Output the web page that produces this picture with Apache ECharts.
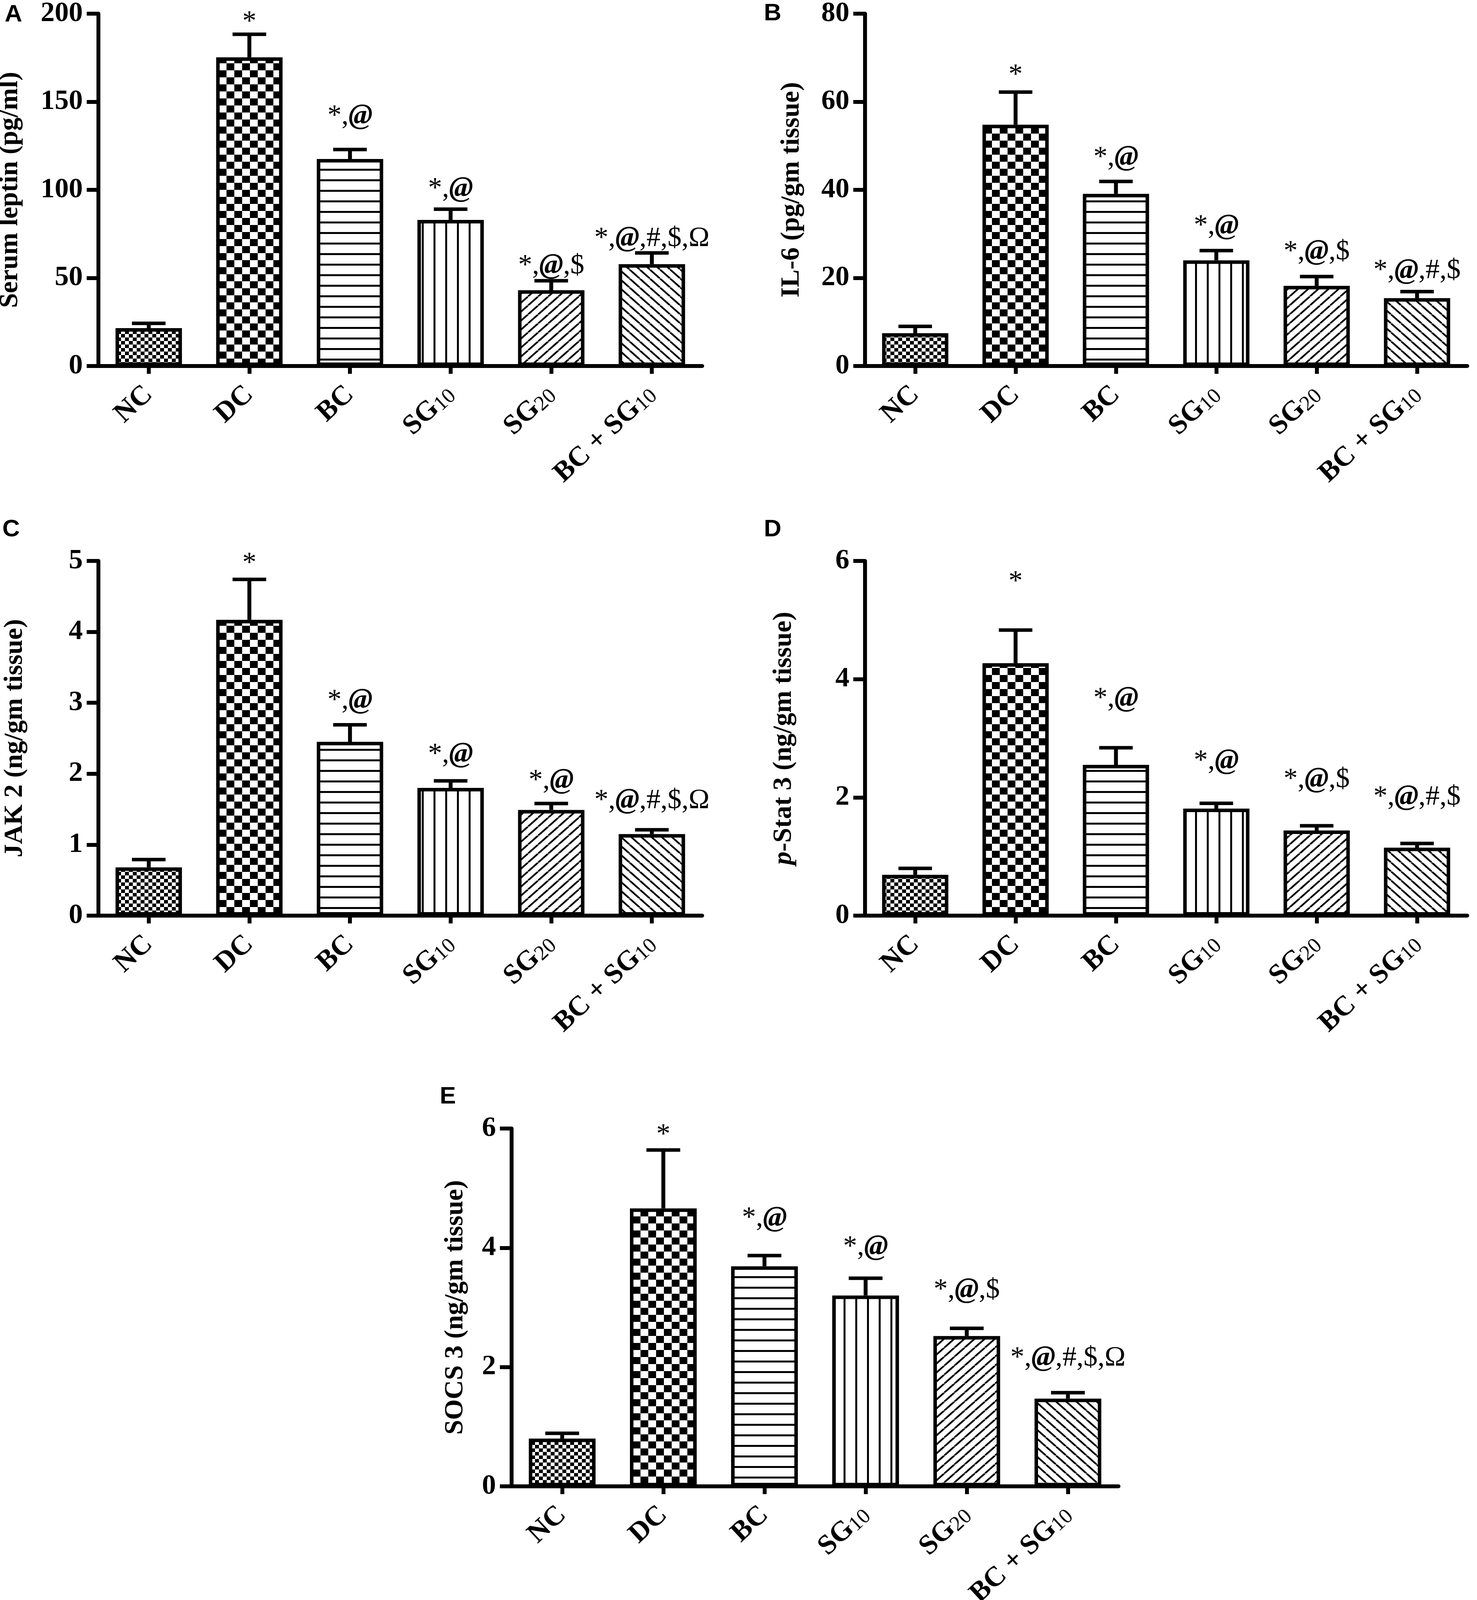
<!DOCTYPE html>
<html>
<head>
<meta charset="utf-8">
<title>Leptin, IL-6, JAK2, p-Stat3, SOCS3</title>
<script src="https://cdn.jsdelivr.net/npm/echarts@6/dist/echarts.min.js"></script>
<style>
html, body { margin: 0; padding: 0; background: #fff; overflow: hidden; }
#chart { width: 3782px; height: 4651px; }
</style>
</head>
<body>
<div id="chart"></div>
<script>
var categories = ['NC', 'DC', 'BC', 'SG10', 'SG20', 'BC + SG10'];

// A - serum leptin (pg/ml)
var leptinMean = [21.5, 175.2, 117.5, 82.9, 43.0, 57.8];
var leptinSem = [2.7, 13.1, 5.4, 6.1, 5.4, 6.4];
var leptinSig = ['', '*', '*,@', '*,@', '*,@,$', '*,@,#,$,Ω'];
var leptinSigAt = [null, 198, 141.7, 100.4, 56.8, 72.2];
var leptinTicks = [0, 50, 100, 150, 200];

// B - IL-6 (pg/gm tissue)
var il6Mean = [7.45, 54.8, 39.1, 24.0, 18.2, 15.4];
var il6Sem = [1.55, 7.4, 2.8, 2.2, 2.1, 1.5];
var il6Sig = ['', '*', '*,@', '*,@', '*,@,$', '*,@,#,$'];
var il6SigAt = [null, 67.1, 47.3, 31.7, 25.9, 21.6];
var il6Ticks = [0, 20, 40, 60, 80];

// C - JAK 2 (ng/gm tissue)
var jak2Mean = [0.68, 4.17, 2.45, 1.80, 1.49, 1.15];
var jak2Sem = [0.11, 0.57, 0.24, 0.10, 0.09, 0.06];
var jak2Sig = ['', '*', '*,@', '*,@', '*,@', '*,@,#,$,Ω'];
var jak2SigAt = [null, 5.03, 3.03, 2.27, 1.90, 1.62];
var jak2Ticks = [0, 1, 2, 3, 4, 5];

// D - p-Stat 3 (ng/gm tissue)
var stat3Mean = [0.69, 4.27, 2.55, 1.81, 1.44, 1.15];
var stat3Sem = [0.11, 0.56, 0.29, 0.09, 0.08, 0.07];
var stat3Sig = ['', '*', '*,@', '*,@', '*,@,$', '*,@,#,$'];
var stat3SigAt = [null, 5.73, 3.67, 2.61, 2.30, 2.00];
var stat3Ticks = [0, 2, 4, 6];

// E - SOCS 3 (ng/gm tissue)
var socs3Mean = [0.80, 4.66, 3.69, 3.20, 2.52, 1.47];
var socs3Sem = [0.09, 0.98, 0.18, 0.29, 0.13, 0.10];
var socs3Sig = ['', '*', '*,@', '*,@', '*,@,$', '*,@,#,$,Ω'];
var socs3SigAt = [null, 5.97, 4.49, 4.01, 3.29, 2.15];
var socs3Ticks = [0, 2, 4, 6];

var serif = "'Liberation Serif', 'Times New Roman', serif";
var sans = "'Liberation Sans', Arial, sans-serif";

// layout is measured on a 4651px tall figure; the window may be shorter,
// so vertical positions are scaled to whatever height we really get
var fullHeight = 4651;
var el = document.getElementById('chart');
var sy = 1;
if (window.innerHeight && window.innerHeight < fullHeight) {
    sy = window.innerHeight / fullHeight;
    el.style.height = window.innerHeight + 'px';
}
function Y(v) { return Math.round(v * sy); }

// hatch fills, one per group
function makePattern(kind) {
    var c = document.createElement('canvas');
    var g, w, h, k;
    if (kind === 'checkSmall' || kind === 'checkBig') {
        w = kind === 'checkSmall' ? 10 : 20;
        h = Math.max(1, Math.round(w * sy));
        c.width = 2 * w; c.height = 2 * h;
        g = c.getContext('2d');
        g.fillStyle = '#fff';
        g.fillRect(0, 0, 2 * w, 2 * h);
        g.fillStyle = '#000';
        g.fillRect(0, 0, w, h);
        g.fillRect(w, h, w, h);
    } else if (kind === 'hLines') {
        h = Y(31);
        c.width = 10; c.height = h;
        g = c.getContext('2d');
        g.fillStyle = '#fff'; g.fillRect(0, 0, 10, h);
        g.fillStyle = '#000'; g.fillRect(0, 0, 10, 5);
    } else if (kind === 'vLines') {
        c.width = 30; c.height = 10;
        g = c.getContext('2d');
        g.fillStyle = '#fff'; g.fillRect(0, 0, 30, 10);
        g.fillStyle = '#000'; g.fillRect(0, 0, 5, 10);
    } else {
        w = 26; h = Y(26);
        c.width = w; c.height = h;
        g = c.getContext('2d');
        g.fillStyle = '#fff'; g.fillRect(0, 0, w, h);
        g.strokeStyle = '#000';
        g.lineWidth = 4.5;
        for (k = -1; k <= 1; k++) {
            g.beginPath();
            if (kind === 'diagUp') {
                g.moveTo(k * w, h); g.lineTo(k * w + w, 0);
            } else {
                g.moveTo(k * w, 0); g.lineTo(k * w + w, h);
            }
            g.stroke();
        }
    }
    return { image: c, repeat: 'repeat' };
}

var fills = [
    makePattern('checkSmall'),
    makePattern('checkBig'),
    makePattern('hLines'),
    makePattern('vLines'),
    makePattern('diagUp'),
    makePattern('diagDown')
];

var panels = [
    { mean: leptinMean, sem: leptinSem, sig: leptinSig, sigAt: leptinSigAt, ticks: leptinTicks,
      name: 'Serum leptin (pg/ml)', letter: 'A', letterAt: [12, 8], nameGap: 192,
      box: { left: 252, top: 40, width: 1546, height: 1024 } },
    { mean: il6Mean, sem: il6Sem, sig: il6Sig, sigAt: il6SigAt, ticks: il6Ticks,
      name: 'IL-6 (pg/gm tissue)', letter: 'B', letterAt: [1956, 4], nameGap: 154,
      box: { left: 2215, top: 40, width: 1542, height: 1024 } },
    { mean: jak2Mean, sem: jak2Sem, sig: jak2Sig, sigAt: jak2SigAt, ticks: jak2Ticks,
      name: 'JAK 2 (ng/gm tissue)', letter: 'C', letterAt: [6, 1504], nameGap: 180,
      box: { left: 252, top: 1631, width: 1546, height: 1031 } },
    { mean: stat3Mean, sem: stat3Sem, sig: stat3Sig, sigAt: stat3SigAt, ticks: stat3Ticks,
      name: '{i|p}-Stat 3 (ng/gm tissue)', letter: 'D', letterAt: [1956, 1504], nameGap: 174,
      box: { left: 2215, top: 1631, width: 1542, height: 1031 } },
    { mean: socs3Mean, sem: socs3Sem, sig: socs3Sig, sigAt: socs3SigAt, ticks: socs3Ticks,
      name: 'SOCS 3 (ng/gm tissue)', letter: 'E', letterAt: [1126, 3153], nameGap: 110,
      box: { left: 1310, top: 3281, width: 1554, height: 1040 } }
];

function catLabel(v) {
    var m = v.match(/^(.*SG)(\d+)$/);
    if (m) return '{m|' + m[1] + '}{s|' + m[2] + '}';
    return '{m|' + v + '}';
}

function richSig(t) {
    return t.split('@').map(function (p) {
        return p ? '{t|' + p + '}' : '';
    }).join('{a|@}');
}

var sigRich = {
    t: { fontFamily: serif, fontSize: 72, fontWeight: 'normal', fill: '#000', color: '#000' },
    a: { fontFamily: serif, fontSize: 74, fontWeight: 'bold', fontStyle: 'italic', fill: '#000', color: '#000' }
};

var axisLine = { color: '#000', width: 10 };

var option = {
    animation: false,
    backgroundColor: '#fff',
    grid: [],
    xAxis: [],
    yAxis: [],
    series: [],
    graphic: []
};

panels.forEach(function (p, i) {
    option.grid.push({
        left: p.box.left, top: Y(p.box.top), width: p.box.width, height: Y(p.box.height),
        containLabel: false, outerBoundsMode: 'none'
    });
    option.xAxis.push({
        type: 'category', gridIndex: i, data: categories, boundaryGap: true,
        axisLine: { show: true, onZero: true, lineStyle: axisLine },
        axisTick: { show: true, alignWithLabel: true, length: Y(23), lineStyle: axisLine },
        splitLine: { show: false },
        axisLabel: {
            interval: 0, rotate: 43, margin: Y(72), color: '#000',
            fontFamily: serif, fontSize: 72, fontWeight: 'bold',
            formatter: catLabel,
            rich: {
                m: { fontFamily: serif, fontSize: 72, fontWeight: 'bold', color: '#000' },
                s: { fontFamily: serif, fontSize: 54, fontWeight: 'normal', color: '#000', verticalAlign: 'bottom' }
            }
        }
    });
    option.yAxis.push({
        type: 'value', gridIndex: i,
        min: p.ticks[0], max: p.ticks[p.ticks.length - 1], interval: p.ticks[1] - p.ticks[0],
        axisLine: { show: true, lineStyle: axisLine },
        axisTick: { show: true, length: 30, lineStyle: axisLine },
        splitLine: { show: false },
        axisLabel: { margin: 40, color: '#000', fontFamily: serif, fontSize: 72, fontWeight: 'bold' },
        name: p.name, nameLocation: 'middle', nameGap: p.nameGap, nameRotate: 90, nameMoveOverlap: false,
        nameTextStyle: {
            color: '#000', fontFamily: serif, fontSize: 68, fontWeight: 'bold',
            rich: { i: { color: '#000', fontFamily: serif, fontSize: 68, fontWeight: 'bold', fontStyle: 'italic' } }
        }
    });
    option.series.push({
        type: 'bar', xAxisIndex: i, yAxisIndex: i, barWidth: '66%', silent: true, z: 2,
        itemStyle: { borderColor: '#000', borderWidth: 9 },
        data: p.mean.map(function (v, k) {
            return { value: v, itemStyle: { color: fills[k] } };
        })
    });
    // error bars (mean + SEM, upward only)
    option.series.push({
        type: 'custom', xAxisIndex: i, yAxisIndex: i, silent: true, z: 3,
        data: p.mean.map(function (v, k) { return [k, v, p.sem[k]]; }),
        renderItem: function (params, api) {
            var x = api.value(0), y = api.value(1), e = api.value(2);
            var base = api.coord([x, y]);
            var top = api.coord([x, y + e]);
            var half = api.size([1, 0])[0] * 0.167;
            return {
                type: 'group',
                children: [
                    { type: 'line', shape: { x1: base[0], y1: base[1], x2: base[0], y2: top[1] },
                      style: { stroke: '#000', lineWidth: 10, fill: null } },
                    { type: 'line', shape: { x1: base[0] - half, y1: top[1], x2: base[0] + half, y2: top[1] },
                      style: { stroke: '#000', lineWidth: 9, fill: null } }
                ]
            };
        }
    });
    // significance marks
    option.series.push({
        type: 'custom', xAxisIndex: i, yAxisIndex: i, silent: true, z: 4,
        data: p.sigAt.map(function (y, k) { return [k, y == null ? 0 : y]; }),
        renderItem: function (params, api) {
            var t = p.sig[params.dataIndex];
            if (!t) return null;
            var pt = api.coord([api.value(0), api.value(1)]);
            return {
                type: 'text',
                x: pt[0],
                y: pt[1] + (t === '*' ? 13 : 0),
                style: {
                    text: richSig(t), rich: sigRich,
                    fontFamily: serif, fontSize: 72, fill: '#000',
                    align: 'center', verticalAlign: 'middle'
                }
            };
        }
    });
    option.graphic.push({
        type: 'text', left: p.letterAt[0], top: Y(p.letterAt[1]), silent: true,
        style: { text: p.letter, fill: '#000', font: 'bold 62px ' + sans }
    });
});

var chart = echarts.init(el, null, { renderer: 'canvas' });
chart.setOption(option);
</script>
</body>
</html>
